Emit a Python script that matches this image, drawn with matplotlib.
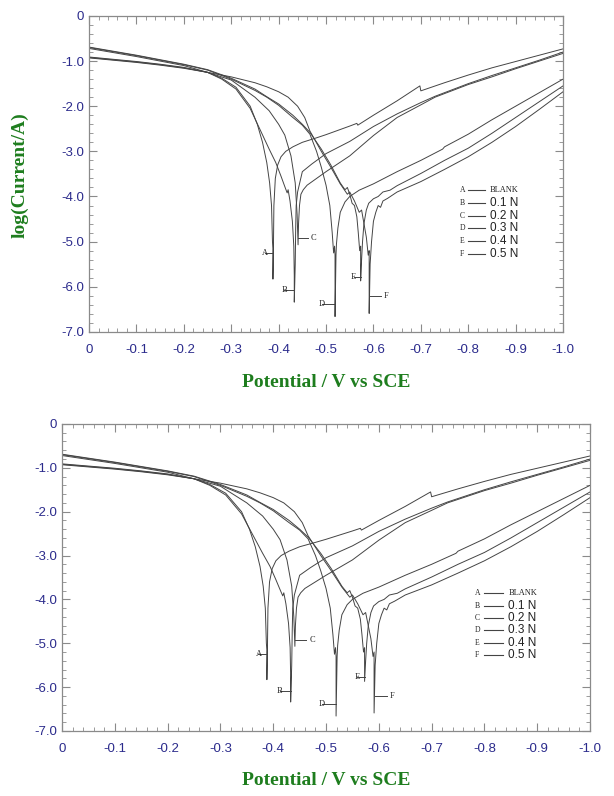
import matplotlib
matplotlib.use("Agg")
import matplotlib.pyplot as plt
from matplotlib.ticker import MultipleLocator, FixedLocator, FixedFormatter

# ── Dados (potencial em V vs SCE, log da corrente) ───────────────────────────

E_A = [0, -0.05, -0.10, -0.15, -0.20, -0.25, -0.28, -0.31, -0.34, -0.355, -0.366,
       -0.375, -0.381, -0.385, -0.387, -0.388, -0.388, -0.389, -0.390, -0.393,
       -0.398, -0.405, -0.415, -0.43, -0.45, -0.48, -0.50, -0.55, -0.565, -0.567,
       -0.60, -0.65, -0.698, -0.700, -0.75, -0.80, -0.85, -0.90, -0.95, -1.0]
L_A = [-0.92, -0.97, -1.02, -1.08, -1.15, -1.25, -1.38, -1.58, -2.00, -2.40, -2.80,
       -3.25, -3.70, -4.20, -5.00, -5.15, -5.83, -5.15, -4.20, -3.60,
       -3.30, -3.12, -3.00, -2.90, -2.80, -2.70, -2.63, -2.44, -2.38, -2.42,
       -2.20, -1.88, -1.55, -1.66, -1.48, -1.31, -1.15, -1.01, -0.87, -0.73]

E_B = [0, -0.05, -0.10, -0.15, -0.20, -0.25, -0.28, -0.31, -0.34, -0.36, -0.38,
       -0.394, -0.405, -0.413, -0.418, -0.420, -0.424, -0.429, -0.432, -0.433,
       -0.433, -0.435, -0.436, -0.437, -0.44, -0.45, -0.47, -0.50, -0.55, -0.60,
       -0.65, -0.70, -0.73, -0.80, -0.85, -0.90, -0.95, -1.0]
L_B = [-0.93, -0.98, -1.03, -1.09, -1.16, -1.25, -1.40, -1.62, -2.05, -2.50, -2.95,
       -3.25, -3.55, -3.78, -3.92, -3.85, -4.10, -4.55, -5.10, -5.75,
       -6.34, -5.50, -4.70, -4.20, -3.90, -3.45, -3.28, -3.05, -2.78, -2.45,
       -2.17, -1.92, -1.78, -1.50, -1.32, -1.15, -0.98, -0.80]

E_C = [0, -0.05, -0.10, -0.15, -0.20, -0.25, -0.30, -0.35, -0.38, -0.40, -0.413,
       -0.426, -0.435, -0.439, -0.441, -0.442, -0.444, -0.447, -0.452, -0.46,
       -0.48, -0.50, -0.55, -0.60, -0.65, -0.70, -0.73, -0.80, -0.85, -0.90,
       -0.95, -1.0]
L_C = [-0.91, -0.96, -1.01, -1.07, -1.14, -1.25, -1.42, -1.80, -2.10, -2.40, -2.64,
       -3.10, -3.70, -4.40, -5.07, -4.60, -4.20, -3.95, -3.85, -3.75,
       -3.60, -3.45, -3.10, -2.65, -2.25, -1.97, -1.80, -1.52, -1.35, -1.17,
       -1.00, -0.83]

E_D = [0, -0.05, -0.10, -0.15, -0.20, -0.25, -0.30, -0.35, -0.375, -0.40, -0.43,
       -0.45, -0.466, -0.48, -0.49, -0.50, -0.508, -0.513, -0.516, -0.518,
       -0.519, -0.519, -0.521, -0.522, -0.525, -0.53, -0.54, -0.55, -0.57,
       -0.60, -0.65, -0.70, -0.746, -0.750, -0.80, -0.85, -0.90, -0.95, -1.0]
L_D = [-0.70, -0.79, -0.88, -0.98, -1.08, -1.20, -1.40, -1.65, -1.80, -1.98, -2.25,
       -2.42, -2.62, -3.00, -3.35, -3.75, -4.20, -4.80, -5.25, -5.10,
       -5.30, -6.66, -5.30, -5.05, -4.70, -4.35, -4.12, -4.00, -3.86,
       -3.72, -3.45, -3.20, -2.95, -2.90, -2.62, -2.30, -2.00, -1.70, -1.40]

E_E = [0, -0.05, -0.10, -0.15, -0.20, -0.25, -0.30, -0.35, -0.375, -0.40, -0.43,
       -0.45, -0.466, -0.49, -0.51, -0.53, -0.54, -0.545, -0.55, -0.555, -0.56,
       -0.565, -0.568, -0.571, -0.573, -0.573, -0.575, -0.577, -0.58, -0.585,
       -0.59, -0.60, -0.61, -0.62, -0.635, -0.65, -0.70, -0.75, -0.80, -0.85,
       -0.90, -0.95, -1.0]
L_E = [-0.69, -0.78, -0.87, -0.97, -1.07, -1.19, -1.38, -1.62, -1.79, -1.95, -2.20,
       -2.40, -2.58, -2.95, -3.30, -3.70, -3.85, -3.80, -3.95, -4.15, -4.20,
       -4.45, -4.80, -5.20, -5.10, -5.87, -5.40, -5.00, -4.60, -4.30,
       -4.15, -4.05, -4.00, -3.90, -3.86, -3.76, -3.49, -3.20, -2.93, -2.60,
       -2.25, -1.90, -1.55]

E_F = [0, -0.05, -0.10, -0.15, -0.20, -0.25, -0.30, -0.35, -0.375, -0.40, -0.42,
       -0.44, -0.455, -0.466, -0.49, -0.51, -0.53, -0.545, -0.55, -0.56, -0.57,
       -0.575, -0.58, -0.585, -0.589, -0.591, -0.591, -0.593, -0.596, -0.60,
       -0.605, -0.61, -0.615, -0.62, -0.63, -0.65, -0.70, -0.75, -0.80, -0.85,
       -0.90, -0.95, -1.0]
L_F = [-0.72, -0.81, -0.90, -1.00, -1.10, -1.25, -1.35, -1.48, -1.57, -1.68, -1.80,
       -2.00, -2.25, -2.55, -3.00, -3.35, -3.72, -3.95, -3.90, -4.10, -4.35,
       -4.30, -4.60, -4.90, -5.30, -5.20, -6.59, -5.50, -5.00, -4.55,
       -4.35, -4.20, -4.24, -4.10, -4.04, -3.90, -3.67, -3.40, -3.12, -2.80,
       -2.45, -2.07, -1.68]

CURVAS = ["A", "B", "C", "D", "E", "F"]
POTENCIAIS = [E_A, E_B, E_C, E_D, E_E, E_F]
CORRENTES = [L_A, L_B, L_C, L_D, L_E, L_F]
LEGENDA = ["BLANK", "0.1 N", "0.2 N", "0.3 N", "0.4 N", "0.5 N"]

# rótulos das curvas: potencial de corrosão, altura do traço e ponta do traço
E_CORR = [-0.387, -0.433, -0.441, -0.519, -0.573, -0.592]
L_ROTULO = [-5.25, -6.08, -4.92, -6.38, -5.78, -6.20]
E_ROTULO = [-0.372, -0.412, -0.462, -0.492, -0.558, -0.615]

X_TICKS = [0, -0.1, -0.2, -0.3, -0.4, -0.5, -0.6, -0.7, -0.8, -0.9, -1.0]
X_LABELS = ["0", "-0.1", "-0.2", "-0.3", "-0.4", "-0.5", "-0.6", "-0.7", "-0.8", "-0.9", "-1.0"]
Y_TICKS = [0, -1, -2, -3, -4, -5, -6, -7]
Y_LABELS = ["0", "-1.0", "-2.0", "-3.0", "-4.0", "-5.0", "-6.0", "-7.0"]

# ── Estilo ───────────────────────────────────────────────────────────────────

AZUL = "#2b2b8c"
VERDE = "#1e7d1e"
CINZA = "#8a8a8a"
LINHA = "#444444"

plt.rcParams.update({
    "font.family": ["Liberation Sans", "DejaVu Sans"],
    "figure.facecolor": "white",
})


def painel(ax):
    for e, l in zip(POTENCIAIS, CORRENTES):
        ax.plot(e, l, color=LINHA, lw=0.7)

    # traços de identificação das curvas
    for letra, ec, yl, er in zip(CURVAS, E_CORR, L_ROTULO, E_ROTULO):
        ax.plot([er, ec], [yl, yl], color=LINHA, lw=0.7)
        ha = "left" if er < ec else "right"
        ax.text(er - 0.006, yl, letra, ha=ha, va="center", fontsize=6,
                family="Liberation Serif", color="#222")

    # legenda feita à mão (letra, traço, texto)
    for i, (letra, txt) in enumerate(zip(CURVAS, LEGENDA)):
        y = 0.448 - i * 0.040
        ax.text(0.782, y, letra, transform=ax.transAxes, ha="left", va="center",
                fontsize=5.5, family="Liberation Serif", color="#222")
        ax.plot([0.800, 0.836], [y, y], transform=ax.transAxes, color=LINHA, lw=0.8)
        if txt == "BLANK":
            ax.text(0.845, y, txt, transform=ax.transAxes, ha="left", va="center",
                    fontsize=6, family="Liberation Serif", color="#222")
        else:
            ax.text(0.845, y, txt, transform=ax.transAxes, ha="left", va="center",
                    fontsize=8.5, color="#222")

    ax.set_xlim(0, -1.0)
    ax.set_ylim(-7.0, 0)
    ax.xaxis.set_major_locator(FixedLocator(X_TICKS))
    ax.xaxis.set_major_formatter(FixedFormatter(X_LABELS))
    ax.yaxis.set_major_locator(FixedLocator(Y_TICKS))
    ax.yaxis.set_major_formatter(FixedFormatter(Y_LABELS))
    ax.xaxis.set_minor_locator(MultipleLocator(0.02))
    ax.yaxis.set_minor_locator(MultipleLocator(0.2))
    ax.tick_params(which="both", direction="in", top=True, right=True,
                   color=CINZA, labelcolor=AZUL, labelsize=9.5)
    ax.tick_params(which="major", length=6, width=0.8)
    ax.tick_params(which="minor", length=3, width=0.6)
    ax.tick_params(axis="x", pad=9)
    for s in ax.spines.values():
        s.set_color(CINZA)
        s.set_linewidth(0.9)


fig = plt.figure(figsize=(6.14, 7.96), dpi=100)

ax1 = fig.add_axes([0.145, 0.583, 0.772, 0.397])
painel(ax1)
ax2 = fig.add_axes([0.101, 0.0817, 0.860, 0.3857])
painel(ax2)

fig.text(0.531, 0.519, "Potential / V vs SCE", ha="center", va="center",
         fontsize=14, fontweight="bold", family="Liberation Serif", color=VERDE)
fig.text(0.531, 0.020, "Potential / V vs SCE", ha="center", va="center",
         fontsize=14, fontweight="bold", family="Liberation Serif", color=VERDE)
fig.text(0.033, 0.780, "log(Current/A)", ha="center", va="center", rotation=90,
         fontsize=14, fontweight="bold", family="Liberation Serif", color=VERDE)

fig.savefig("out.png", dpi=100, facecolor="white")
